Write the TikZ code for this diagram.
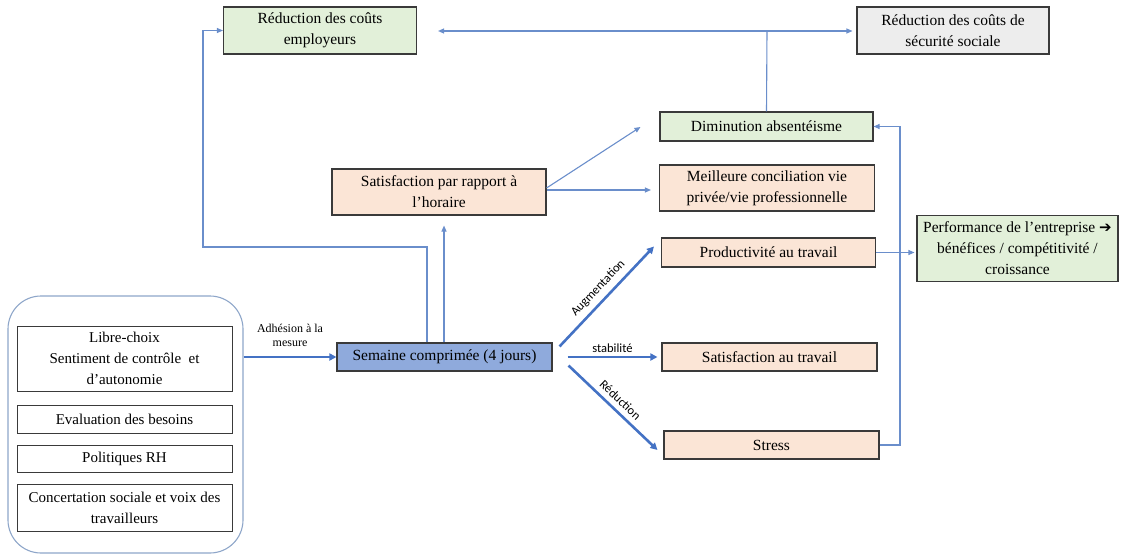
\documentclass[tikz,border=0pt]{standalone}
\usepackage{fontspec}
\setmainfont{Liberation Serif}
\newfontfamily\lblfont{Carlito}
\newfontfamily\symfont{DejaVu Sans}
\usetikzlibrary{arrows.meta,calc}
\definecolor{boxgreen}{HTML}{E2F0D9}
\definecolor{boxpeach}{HTML}{FBE5D6}
\definecolor{boxgray}{HTML}{EDEDED}
\definecolor{boxblue}{HTML}{8FAADC}
\definecolor{thickblue}{HTML}{4472C4}
\definecolor{thinblue}{HTML}{6A8ECB}
\definecolor{contblue}{HTML}{8EA6C9}
\definecolor{edge}{HTML}{3A3A3A}
\tikzset{
  box/.style={draw=edge, line width=1.1pt, align=center, inner sep=0pt,
    font=\fontsize{15.5}{21}\selectfont},
  greenbox/.style={box, fill=boxgreen},
  peachbox/.style={box, fill=boxpeach},
  graybox/.style={box, fill=boxgray},
  bluebox/.style={box, fill=boxblue},
  whitebox/.style={draw=edge, line width=0.9pt, align=center, inner sep=0pt,
    font=\fontsize{15}{21}\selectfont},
  container/.style={draw=contblue, line width=1.1pt, rounded corners=33pt, inner sep=0pt},
  thinarrow/.style={draw=thinblue, line width=1.1pt, -{Triangle[length=6pt,width=5pt]}},
  thinline/.style={draw=thinblue, line width=1.1pt},
  thickarrow/.style={draw=thickblue, line width=2.6pt, -{Triangle[length=7pt,width=7pt]}},
  sanslabel/.style={font=\lblfont\fontsize{12.5}{14}\selectfont, inner sep=1pt},
  seriflabel/.style={font=\fontsize{12}{14.5}\selectfont, align=center, inner sep=0pt}
}
\begin{document}
\begin{tikzpicture}[x=1pt,y=-1pt]
\useasboundingbox (0,0) rectangle (1125,554);
% nodes
\node[greenbox, minimum width=193pt, minimum height=47pt] (empl) at (320,30.5) {Réduction des coûts\\employeurs};
\node[graybox, minimum width=192pt, minimum height=47pt] (secu) at (953,30.5) {Réduction des coûts de\\sécurité sociale};
\node[greenbox, minimum width=213pt, minimum height=29pt] (dimin) at (766.5,126.5) {Diminution absentéisme};
\node[peachbox, minimum width=214pt, minimum height=46pt] (horaire) at (439,192) {Satisfaction par rapport à\\l’horaire};
\node[peachbox, minimum width=215pt, minimum height=46pt] (concil) at (767,188) {Meilleure conciliation vie\\privée/vie professionnelle};
\node[peachbox, minimum width=214pt, minimum height=29pt] (prod) at (768.5,252.5) {Productivité au travail};
\node[greenbox, minimum width=201pt, minimum height=66pt] (perf) at (1017.5,248.5) {Performance de l’entreprise {\symfont\bfseries\fontsize{15}{15}\selectfont ➔}\\bénéfices / compétitivité /\\croissance};
\node[bluebox, minimum width=215pt, minimum height=28pt] (sem) at (444.5,357) {Semaine comprimée (4 jours)};
\node[peachbox, minimum width=215pt, minimum height=28pt] (sattrav) at (769.5,357) {Satisfaction au travail};
\node[peachbox, minimum width=215pt, minimum height=28pt] (stress) at (771.5,445) {Stress};
\node[container, minimum width=235pt, minimum height=257pt] (cont) at (125.5,424.5) {};
\node[whitebox, minimum width=215pt, minimum height=65pt] (libre) at (124.5,358.5) {Libre-choix\\Sentiment de contrôle~ et\\d’autonomie};
\node[whitebox, minimum width=215pt, minimum height=28pt] (eval) at (124.5,419) {Evaluation des besoins};
\node[whitebox, minimum width=215pt, minimum height=27pt] (polit) at (124.5,459) {Politiques RH};
\node[whitebox, minimum width=215pt, minimum height=47pt] (concert) at (124.5,507.5) {Concertation sociale et voix des\\travailleurs};
% helper coordinates
\coordinate (rail) at (900,0);
\coordinate (leftrail) at (203,0);
\coordinate (split) at (427,247);
\coordinate (upx) at (444,0);
\coordinate (jn) at (767,31);
% connectors
\draw[thickarrow] (cont.east |- sem.west) -- node[seriflabel, above=9pt] {Adhésion à la\\mesure} (sem.west);
\draw[thinarrow] (sem.north -| split) -- (split) -- (split -| leftrail) -- (leftrail |- empl.west) -- (empl.west);
\draw[thinarrow] (sem.north -| upx) -- ($(horaire.south -| upx)+(0,10)$);
\draw[thinarrow] ([yshift=4pt]horaire.east) -- ($(dimin.west)+(-19,0.5)$);
\draw[thinarrow] ([yshift=2pt]horaire.east) -- ($(horaire.east -| concil.west)+(-8,-2)$);
\draw[thickarrow] ($(sem.north east)+(7,4)$) -- node[sanslabel, sloped, above=4pt] {Augmentation} ($(prod.west)+(-7,-6)$);
\draw[thickarrow] ($(sem.east)+(15,0)$) -- node[sanslabel, above=2pt] {stabilité} ($(sattrav.west)+(-4,0)$);
\draw[thickarrow] ($(sem.south east)+(16,-6)$) -- node[sanslabel, sloped, above=4pt] {Réduction} ($(stress.west)+(-6,5)$);
\draw[thinarrow] (stress.east) -- (stress.east -| rail) -- (rail |- dimin.east) -- (dimin.east);
\draw[thinarrow] (prod.east) -- ($(prod.east -| perf.west)+(-2,0)$);
\draw[thinline] (dimin.north) -- (jn);
\draw[thinline, {Triangle[length=6pt,width=5pt]}-{Triangle[length=6pt,width=5pt]}] ($(empl.east |- jn)+(21,0)$) -- ($(secu.west |- jn)+(-4,0)$);
\end{tikzpicture}
\end{document}
